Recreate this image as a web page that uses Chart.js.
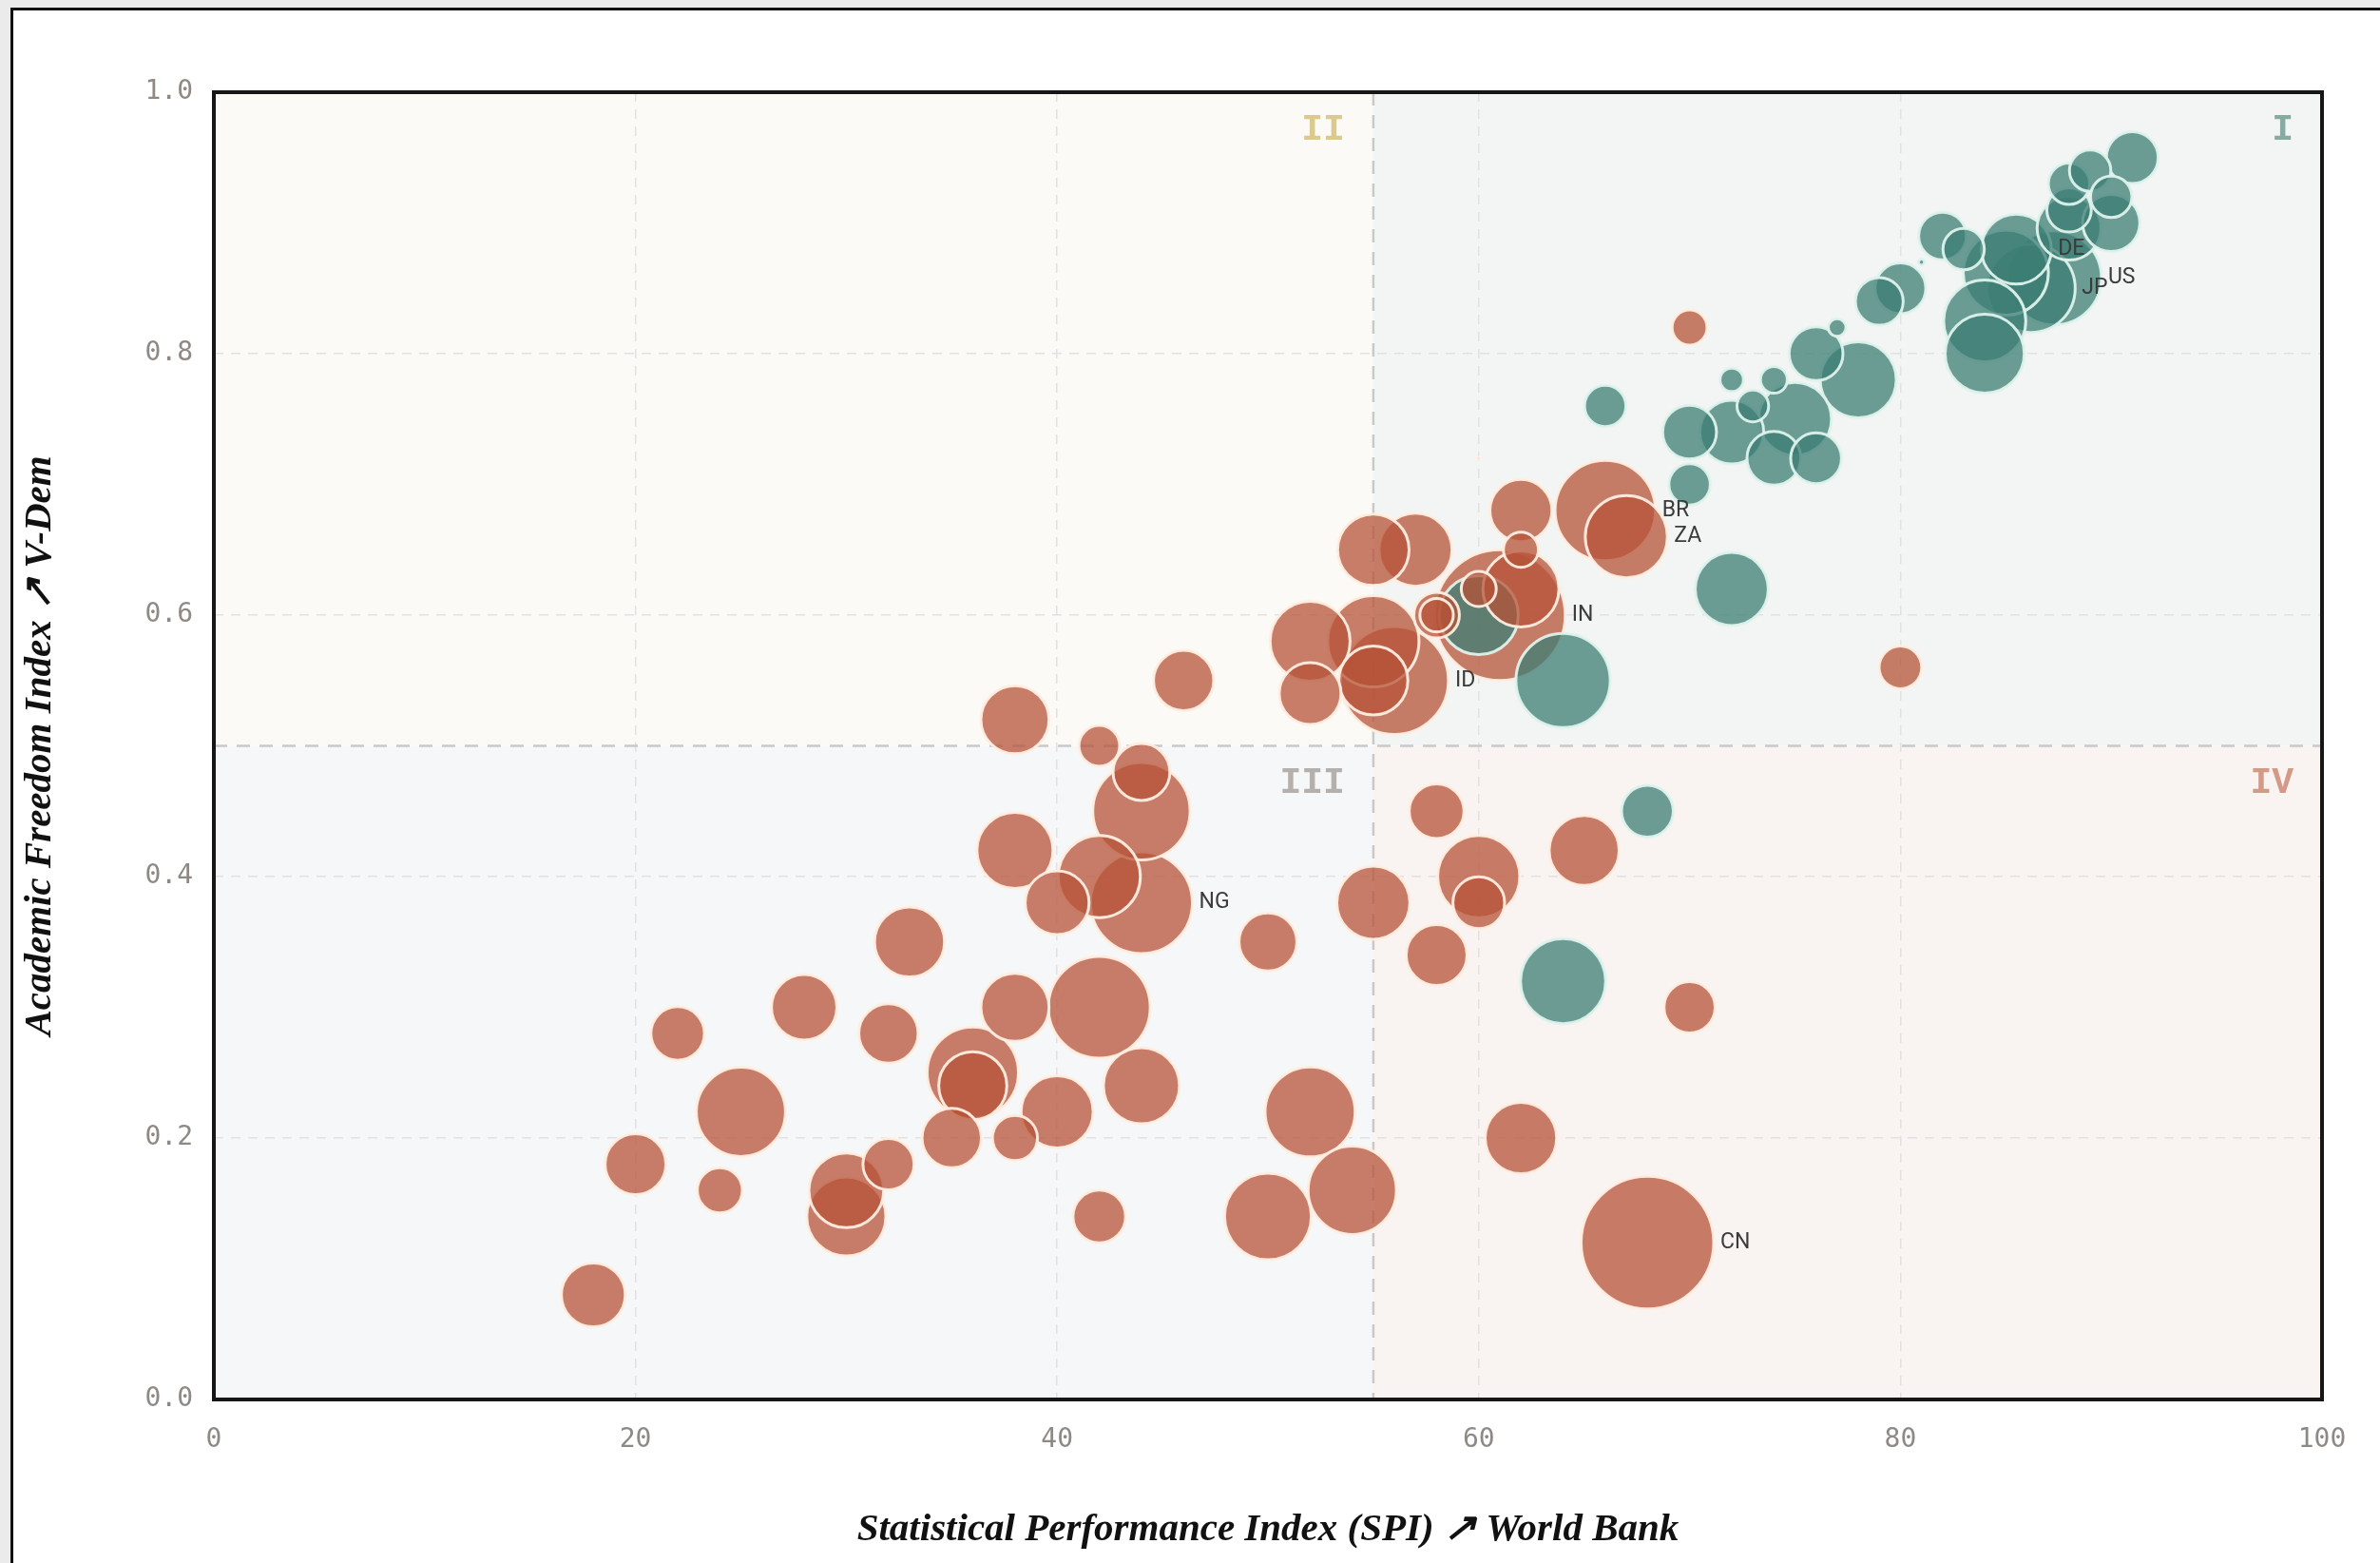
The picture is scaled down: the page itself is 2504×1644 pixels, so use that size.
<!DOCTYPE html>
<html>
<head>
<meta charset="utf-8">
<script src="https://cdn.jsdelivr.net/npm/chart.js@4.4.1/dist/chart.umd.min.js"></script>
<style>
  html, body { margin: 0; padding: 0; background: #ebebeb; }
  canvas { display: block; }
</style>
</head>
<body>
<canvas id="chart" width="2504" height="1644"></canvas>
<script>
// axes
const xTitle = 'Statistical Performance Index (SPI) \u2197 World Bank';
const yTitle = 'Academic Freedom Index \u2197 V-Dem';
const xTicks = [0, 20, 40, 60, 80, 100];
const yTicks = [0, 0.2, 0.4, 0.6, 0.8, 1.0];
const splitX = 55;
const splitY = 0.5;
const quadrantNames = ['I', 'II', 'III', 'IV'];

// red group (orange-red bubbles)
const redSpi = [18,20,22,24,25,28,30,30,32,32, 33,35,36,36,38,38,38,38,40,40,
  42,42,42,42,44,44,44,44,46,50, 50,52,52,52,54,55,55,55,56,55,
  57,58,58,58,58,60,61,62,62,62, 60,60,62,65,66,67,68,70,70,80, 60];
const redAfi = [0.08,0.18,0.28,0.16,0.22,0.30,0.16,0.14,0.28,0.18, 0.35,0.20,0.25,0.24,0.52,0.42,0.30,0.20,0.38,0.22,
  0.50,0.40,0.30,0.14,0.48,0.45,0.38,0.24,0.55,0.35, 0.14,0.58,0.54,0.22,0.16,0.65,0.58,0.55,0.55,0.38,
  0.65,0.45,0.34,0.60,0.60,0.62,0.60,0.62,0.65,0.68, 0.40,0.38,0.20,0.42,0.68,0.66,0.12,0.82,0.30,0.56, 0.72];
const redWeight = [21,20,17.6,14.8,29.3,21.5,24.6,26,19.5,16.8, 23,19.5,30,22.4,22.4,25,22.4,14.8,21,23.7,
  13.4,27,33.5,17.3,18.7,32,33.5,25,19.8,19, 28.5,26.3,20.3,29.6,29,23.5,30,22.7,35.5,24,
  24,18,20,15,11,11.5,43,25,11.5,20.4, 27,17,23.5,23,33,27,43.6,11.5,16.8,14, 0.8];
const redCodes = ['','','','','','','','','','', '','','','','','','','','','',
  '','','','','','','NG','','','', '','','','','','','','','ID','',
  '','','','','','','IN','','','', '','','','','BR','ZA','CN','','','', ''];

// teal group
const tealSpi = [60,64,64,68,72,66,70,70,72,72, 73,74,74,75,76,76,77,78,79,80,
  81,82,83,84,84,85.5,85,86.2,87.3,88, 88,88,89,90,90,91];
const tealAfi = [0.60,0.55,0.32,0.45,0.62,0.76,0.70,0.74,0.74,0.78, 0.76,0.78,0.72,0.75,0.72,0.80,0.82,0.78,0.84,0.85,
  0.87,0.89,0.88,0.80,0.825,0.88,0.862,0.85,0.858,0.896, 0.91,0.93,0.94,0.92,0.90,0.95];
const tealWeight = [26,31,28,17,24,13.6,13.6,17.7,21,7.7, 10.4,8.8,17.7,24,16.7,17.7,5.8,25,15.7,16.7,
  2,15.7,13.6,26,27,23,28,29,31,21, 14.6,13.6,13.6,13.6,18.8,17];
const tealCodes = ['','','','','','','','','','', '','','','','','','','','','',
  '','','','','','DE','','JP','US','', '','','','','',''];

const RADIUS_PER_WEIGHT = 1.6;
const RED = 'rgba(182, 83, 56, 0.75)';
const RED_EDGE = 'rgba(255, 238, 226, 0.95)';
const TEAL = 'rgba(60, 126, 116, 0.75)';
const TEAL_EDGE = 'rgba(222, 242, 236, 0.95)';

// one dataset, biggest bubbles first so small ones sit on top
const points = [];
redSpi.forEach((v, i) => points.push({x: v, y: redAfi[i], w: redWeight[i], code: redCodes[i], g: 'red'}));
tealSpi.forEach((v, i) => points.push({x: v, y: tealAfi[i], w: tealWeight[i], code: tealCodes[i], g: 'teal'}));
points.sort((a, b) => b.w - a.w);

const bubbleData = points.map(p => ({x: p.x, y: p.y, r: p.w * RADIUS_PER_WEIGHT}));

const quadrants = {
  id: 'quadrants',
  beforeDraw(chart) {
    const {ctx, chartArea: a, scales: {x, y}} = chart;
    const W = chart.width, H = chart.height;
    ctx.save();
    ctx.fillStyle = '#ebebeb';
    ctx.fillRect(0, 0, W, H);
    ctx.fillStyle = '#ffffff';
    ctx.fillRect(11, 8, W, H);
    ctx.strokeStyle = '#111111';
    ctx.lineWidth = 3;
    ctx.beginPath();
    ctx.moveTo(12.5, H);
    ctx.lineTo(12.5, 9.5);
    ctx.lineTo(W, 9.5);
    ctx.stroke();

    const xm = x.getPixelForValue(splitX);
    const ym = y.getPixelForValue(splitY);
    ctx.fillStyle = '#fbfaf6';  // II
    ctx.fillRect(a.left, a.top, xm - a.left, ym - a.top);
    ctx.fillStyle = '#f2f5f4';  // I
    ctx.fillRect(xm, a.top, a.right - xm, ym - a.top);
    ctx.fillStyle = '#f6f7f8';  // III
    ctx.fillRect(a.left, ym, xm - a.left, a.bottom - ym);
    ctx.fillStyle = '#f9f4f2';  // IV
    ctx.fillRect(xm, ym, a.right - xm, a.bottom - ym);
    ctx.restore();
  },
  beforeDatasetsDraw(chart) {
    const {ctx, chartArea: a, scales: {x, y}} = chart;
    const xm = x.getPixelForValue(splitX);
    const ym = y.getPixelForValue(splitY);
    ctx.save();
    ctx.strokeStyle = '#c9c9c9';
    ctx.lineWidth = 2.5;
    ctx.setLineDash([14, 10]);
    ctx.beginPath();
    ctx.moveTo(xm, a.top); ctx.lineTo(xm, a.bottom);
    ctx.moveTo(a.left, ym); ctx.lineTo(a.right, ym);
    ctx.stroke();
    ctx.setLineDash([]);

    ctx.font = 'bold 38px "Liberation Mono", monospace';
    ctx.textAlign = 'right';
    ctx.textBaseline = 'middle';
    const labelSpots = [
      {t: quadrantNames[0], x: a.right - 30, y: a.top + 40, c: '#86aca2'},
      {t: quadrantNames[1], x: xm - 30, y: a.top + 40, c: '#dcc98e'},
      {t: quadrantNames[2], x: xm - 30, y: ym + 40, c: '#b5b0ab'},
      {t: quadrantNames[3], x: a.right - 30, y: ym + 40, c: '#d49a88'}
    ];
    labelSpots.forEach(q => { ctx.fillStyle = q.c; ctx.fillText(q.t, q.x, q.y); });
    ctx.restore();
  },
  afterDatasetsDraw(chart) {
    const {ctx, chartArea: a} = chart;
    const meta = chart.getDatasetMeta(0);
    ctx.save();
    ctx.font = '23px Roboto, "Noto Sans", sans-serif';
    ctx.fillStyle = '#3b3b3b';
    ctx.textAlign = 'left';
    ctx.textBaseline = 'middle';
    points.forEach((p, i) => {
      if (!p.code) return;
      const el = meta.data[i];
      ctx.fillText(p.code, el.x + el.options.radius + 7, el.y);
    });
    ctx.strokeStyle = '#161616';
    ctx.lineWidth = 4;
    ctx.strokeRect(a.left, a.top, a.right - a.left, a.bottom - a.top);
    ctx.restore();
  }
};

const tickFont = {family: '"DejaVu Sans Mono", monospace', size: 28};
const titleFont = {family: '"Liberation Serif", serif', size: 41, style: 'italic', weight: 'bold'};

new Chart(document.getElementById('chart'), {
  type: 'bubble',
  data: {
    datasets: [{
      data: bubbleData,
      backgroundColor: points.map(p => p.g === 'red' ? RED : TEAL),
      borderColor: points.map(p => p.g === 'red' ? RED_EDGE : TEAL_EDGE),
      borderWidth: 3
    }]
  },
  options: {
    responsive: false,
    animation: false,
    layout: {autoPadding: false, padding: {top: 97, right: 61, left: 0, bottom: 0}},
    plugins: {legend: {display: false}, tooltip: {enabled: false}},
    scales: {
      x: {
        type: 'linear',
        min: xTicks[0], max: xTicks[xTicks.length - 1],
        afterBuildTicks: s => { s.ticks = xTicks.map(v => ({value: v})); },
        ticks: {padding: 26, color: '#8e8984', font: tickFont, callback: v => String(v)},
        grid: {
          drawTicks: false, lineWidth: 1.5,
          color: c => (c.tick && (c.tick.value === 0 || c.tick.value === 100)) ? 'rgba(0,0,0,0)' : '#e1e1e1'
        },
        border: {display: false, dash: [10, 8]},
        title: {display: true, text: xTitle, color: '#111111', font: titleFont, padding: {top: 0, bottom: 10}},
        afterFit: s => { s.height = 172; }
      },
      y: {
        type: 'linear',
        min: yTicks[0], max: yTicks[yTicks.length - 1],
        afterBuildTicks: s => { s.ticks = yTicks.map(v => ({value: v})); },
        ticks: {padding: 22, color: '#8e8984', font: tickFont, callback: v => Number(v).toFixed(1)},
        grid: {
          drawTicks: false, lineWidth: 1.5,
          color: c => (c.tick && (c.tick.value === 0 || c.tick.value === 1)) ? 'rgba(0,0,0,0)' : '#e1e1e1'
        },
        border: {display: false, dash: [10, 8]},
        title: {display: true, text: yTitle, color: '#111111', font: titleFont, padding: {top: 18, bottom: 0}},
        afterFit: s => { s.width = 225; }
      }
    }
  },
  plugins: [quadrants]
});
</script>
</body>
</html>
